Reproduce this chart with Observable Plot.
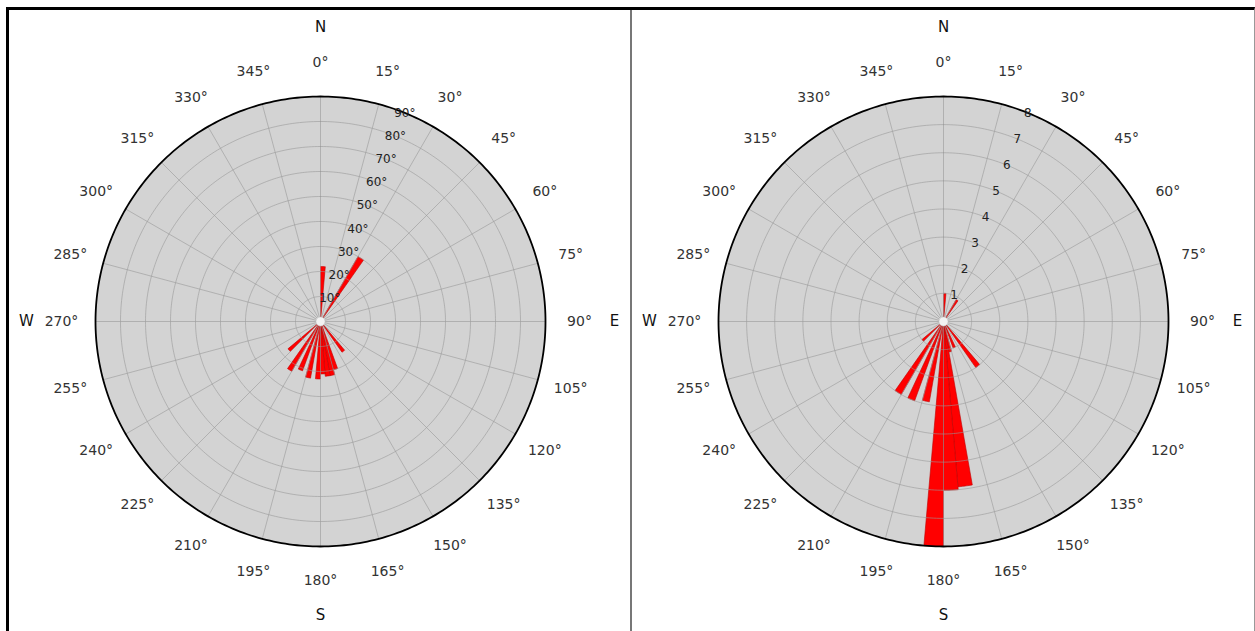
<!DOCTYPE html>
<html><head><meta charset="utf-8">
<script src="https://cdn.jsdelivr.net/npm/d3@7"></script>
<script src="https://cdn.jsdelivr.net/npm/@observablehq/plot@0.6"></script>
<style>
body{margin:0;background:#fff;font-family:"DejaVu Sans",sans-serif;}
#frame{position:absolute;left:6px;top:7px;width:1245px;height:640px;border-top:3px solid #000;border-left:3px solid #000;border-right:1px solid #999;display:flex;}
.panel{width:621px;height:621px;}
#left{border-right:2px solid #777;}
</style></head><body>
<div id="frame"><div id="left" class="panel"></div><div id="right" class="panel"></div></div>
<script>
// ---- data ----
const binWidth = 5; // degrees per class
const leftBinStart = [0, 30, 140, 160, 165, 170, 175, 180, 190, 200, 210, 225];
const leftCounts   = [22, 30, 15, 20, 22, 22, 21, 23, 23, 21, 23, 17];
const leftRings = [10, 20, 30, 40, 50, 60, 70, 80, 90];
const leftRingLabels = ["10°", "20°", "30°", "40°", "50°", "60°", "70°", "80°", "90°"];

const rightBinStart = [0, 30, 140, 155, 165, 170, 175, 180, 190, 200, 210, 225];
const rightCounts   = [1.0, 0.9, 2.0, 1.0, 1.1, 5.9, 6.0, 8.0, 2.9, 3.0, 3.0, 1.0];
const rightRings = [1, 2, 3, 4, 5, 6, 7, 8];
const rightRingLabels = ["1", "2", "3", "4", "5", "6", "7", "8"];

const angleTicks = [0, 15, 30, 45, 60, 75, 90, 105, 120, 135, 150, 165, 180, 195, 210, 225, 240, 255, 270, 285, 300, 315, 330, 345];
const angleTickLabels = angleTicks.map(a => a + "°");
const compassLetters = ["N", "E", "S", "W"];
const compassAngles = [0, 90, 180, 270];
const ringLabelBearing = 22;

function rose(el, bins, counts, rings, ringLabels) {
  const max = rings[rings.length - 1];
  const R = 225, W = 621, H = 621, cx = 311, cy = 311;
  const k = max / R;
  const rad = a => a * Math.PI / 180;
  const pol = (v, a) => ({x: v * Math.sin(rad(a)), y: v * Math.cos(rad(a))});
  const circle = (v, id) => d3.range(0, 360.5, 1).map(a => ({...pol(v, a), id}));
  const wedges = bins.flatMap((b, i) => {
    const pts = [{x: 0, y: 0, id: i}];
    for (let a = b; a <= b + binWidth + 1e-9; a += 0.5) pts.push({...pol(counts[i], a), id: i});
    pts.push({x: 0, y: 0, id: i});
    return pts;
  });
  const ringPts = rings.slice(0, -1).flatMap(v => circle(v, v));
  const spokes = angleTicks.map(a => ({a, ...pol(max, a)}));
  const labR = max * 259 / R, cmpR = max * 294 / R;
  const angLabs = angleTicks.map((a, i) => ({t: angleTickLabels[i], ...pol(labR, a)}));
  const cmpLabs = compassAngles.map((a, i) => ({t: compassLetters[i], ...pol(cmpR, a)}));
  const ringLabs = rings.map((v, i) => ({t: ringLabels[i], ...pol(v, ringLabelBearing)}));
  const plot = Plot.plot({
    width: W, height: H, margin: 0,
    x: {domain: [-cx * k, (W - cx) * k], range: [0, W], axis: null},
    y: {domain: [-(H - cy) * k, cy * k], range: [H, 0], axis: null},
    style: {fontFamily: "DejaVu Sans, sans-serif", background: "white", overflow: "visible"},
    marks: [
      Plot.line(circle(max, 0), {x: "x", y: "y", fill: "#d3d3d3", stroke: "none"}),
      Plot.line(wedges, {x: "x", y: "y", z: "id", fill: "#ff0000", stroke: "#c00000", strokeWidth: 0.6, strokeLinejoin: "round"}),
      Plot.line(ringPts, {x: "x", y: "y", z: "id", stroke: "#999", strokeOpacity: 0.6, strokeWidth: 1}),
      Plot.link(spokes, {x1: 0, y1: 0, x2: "x", y2: "y", stroke: "#999", strokeOpacity: 0.6, strokeWidth: 1}),
      Plot.line(circle(max, 0), {x: "x", y: "y", stroke: "#000", strokeWidth: 1.8}),
      Plot.dot([{x: 0, y: 0}], {x: "x", y: "y", r: 4.5, fill: "#f2f2f2", stroke: "#c8c8c8", strokeWidth: 0.5}),
      Plot.text(ringLabs, {x: "x", y: "y", text: "t", fontSize: 12, fill: "#222"}),
      Plot.text(angLabs, {x: "x", y: "y", text: "t", fontSize: 14, fill: "#333"}),
      Plot.text(cmpLabs, {x: "x", y: "y", text: "t", fontSize: 15, fill: "#111"})
    ]
  });
  document.getElementById(el).appendChild(plot);
}
rose("left", leftBinStart, leftCounts, leftRings, leftRingLabels);
rose("right", rightBinStart, rightCounts, rightRings, rightRingLabels);
</script></body></html>
